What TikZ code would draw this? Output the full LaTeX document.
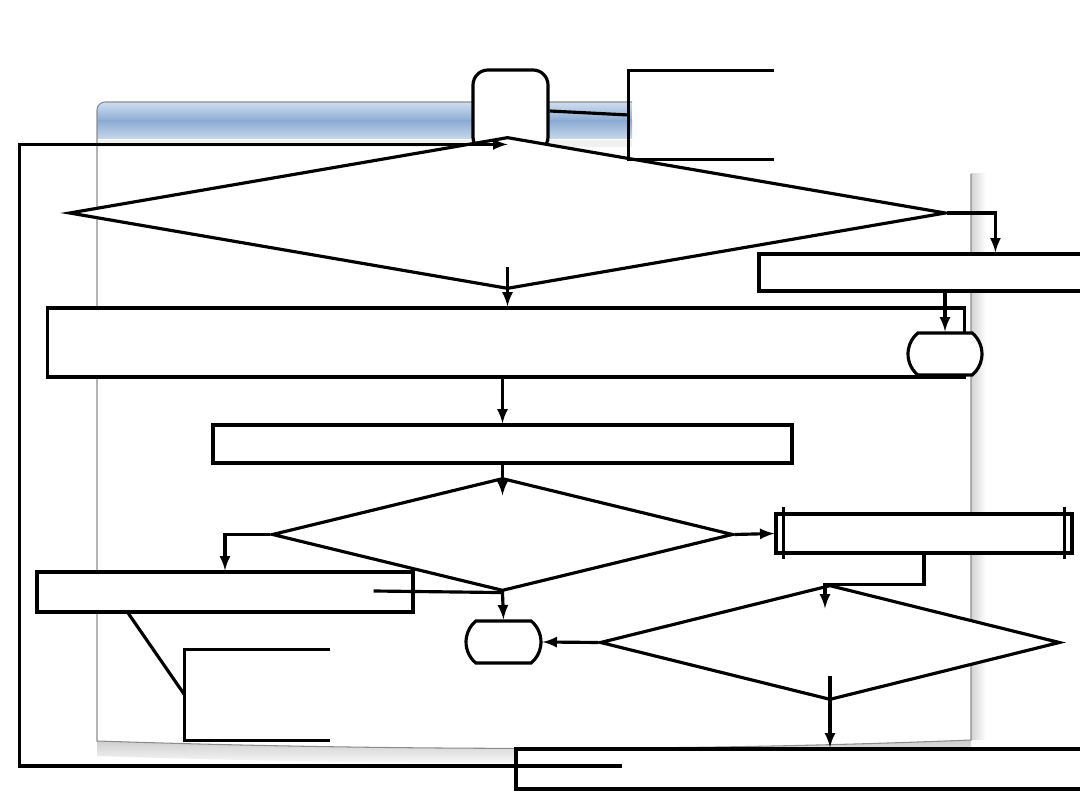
\documentclass[tikz,border=0pt]{standalone}
\usepackage{xcolor}
\usepackage{tikz}
\usetikzlibrary{arrows,calc,shapes.geometric,shapes.misc}
\definecolor{barTop}{HTML}{CFDEEF}
\definecolor{barMid}{HTML}{8BABD3}
\definecolor{barLow}{HTML}{C6D8EC}
\definecolor{pageEdge}{HTML}{8C8C8C}
\begin{document}
\begin{tikzpicture}[
  x=0.02cm, y=-0.02cm,
  >=latex,
  flowline/.style={line width=1.8pt},
  procbox/.style={
    draw,
    line width=1.8pt,
    fill=white,
    rectangle,
    inner sep=0pt
  },
  choice/.style={
    draw,
    line width=1.8pt,
    fill=white,
    diamond,
    inner sep=0pt
  },
  terminal/.style={
    draw,
    line width=1.8pt,
    fill=white,
    rounded rectangle,
    rounded rectangle arc length=100,
    inner sep=0pt
  },
  notebr/.style={
    rectangle,
    inner sep=0pt
  }
]
  \clip (0,0) rectangle (1080,810);
  % slide background
  \shade[top color=gray!40, bottom color=white]
    (97,741) .. controls (400,751) and (700,751) .. (971,740)
    -- (971,756) .. controls (700,766) and (400,766) .. (97,756) -- cycle;
  \shade[left color=gray!35, right color=white] (971,174) rectangle (986,740);
  \shade[top color=barTop, bottom color=barMid]
    (97,121) -- (97,110) arc[start angle=180, end angle=90, radius=0.16cm]
    -- (632,102) -- (632,121) -- cycle;
  \shade[top color=barMid, bottom color=barLow] (97,120.5) rectangle (632,139);
  \draw[pageEdge, line width=0.6pt]
    (97,139) -- (97,110) arc[start angle=180, end angle=90, radius=0.16cm]
    -- (632,102);
  \fill[gray!12] (98,140) rectangle (632,147);
  \draw[pageEdge, line width=0.6pt] (97,139) -- (97,741)
    .. controls (400,751) and (700,751) .. (971,740) -- (971,174);

  % shapes
  \node[draw, line width=1.8pt, fill=white, rectangle, rounded corners=0.3cm,
    inner sep=0pt, minimum width=1.5cm, minimum height=1.64cm] (T1) at (510.5,111) {};
  \node[choice, minimum width=17.54cm, minimum height=3.04cm] (D1) at (507.5,213) {};
  \node[notebr, minimum width=2.9cm, minimum height=1.76cm] (note1) at (701.5,115) {};
  \node[procbox, minimum width=6.52cm, minimum height=0.74cm] (R1) at (922,272.5) {};
  \node[procbox, minimum width=18.36cm, minimum height=1.38cm] (B1) at (506,342.5) {};
  \node[terminal, minimum width=1.48cm, minimum height=0.84cm] (T2) at (945,354) {};
  \node[procbox, minimum width=11.58cm, minimum height=0.76cm] (B2) at (502.5,444) {};
  \node[choice, minimum width=9.22cm, minimum height=2.26cm] (D2) at (502.5,534.5) {};
  \node[procbox, minimum width=7.52cm, minimum height=0.8cm] (L) at (225,592) {};
  \node[procbox, minimum width=5.92cm, minimum height=0.78cm] (P) at (924,533.5) {};
  \node[terminal, minimum width=1.5cm, minimum height=0.84cm] (T3) at (503.5,642) {};
  \node[choice, minimum width=9.2cm, minimum height=2.3cm] (D3) at (830,642.5) {};
  \node[procbox, minimum width=11.38cm, minimum height=0.8cm] (BB) at (800.5,769) {};
  \node[notebr, minimum width=2.9cm, minimum height=1.8cm] (note2) at (257.5,695) {};

  % brackets and the double sides of P
  \draw[flowline] (note1.north east) -- (note1.north west)
    -- (note1.south west) -- (note1.south east);
  \draw[flowline] (note2.north east) -- (note2.north west)
    -- (note2.south west) -- (note2.south east);
  \draw[flowline] ($(P.north west)+(9,-5)$) -- ($(P.south west)+(9,4)$);
  \draw[flowline] ($(P.north east)+(-9,-5)$) -- ($(P.south east)+(-9,4)$);

  % connectors
  \coordinate (D1in) at ($(D1.north)+(0,9)$);
  \coordinate (D2in) at ($(D2.north)+(0,19)$);
  \coordinate (D3in) at ($(D3.north)+(-5,25)$);
  \coordinate (loopstart) at ($(BB.west)+(108,-3)$);
  \draw[flowline] (T1.east) -- (note1.west);
  \draw[flowline] ($(L.south west)+(93,0)$) -- (note2.west);
  \draw[flowline,->] (loopstart) -- ++(-603,0) |- (D1in);
  \draw[flowline,->] (D1.east) -| ($(R1.north west)+(238,0)$);
  \draw[flowline,->] ($(D1.south)+(0,-24)$) -- (D1.south |- B1.north);
  \draw[flowline,->] (R1.south -| T2.north) -- (T2.north);
  \draw[flowline,->] (B1.south -| B2.north) -- (B2.north);
  \draw[flowline,->] (B2.south) -- (B2.south |- D2in);
  \draw[flowline,->] (D2.west) -| (L.north);
  \draw[flowline,->] (D2.east) -- (P.west);
  \draw[flowline,->] ($(L.east)+(-41,-1)$) -- (D2.south) -- (T3.north);
  \draw[flowline,->] (P.south) -- ++(0,30) -| (D3in);
  \draw[flowline,->] (D3.west) -- (T3.east);
  \draw[flowline,->] ($(D3.south)+(0,-26)$) -- (D3.south |- BB.north);
\end{tikzpicture}
\end{document}
